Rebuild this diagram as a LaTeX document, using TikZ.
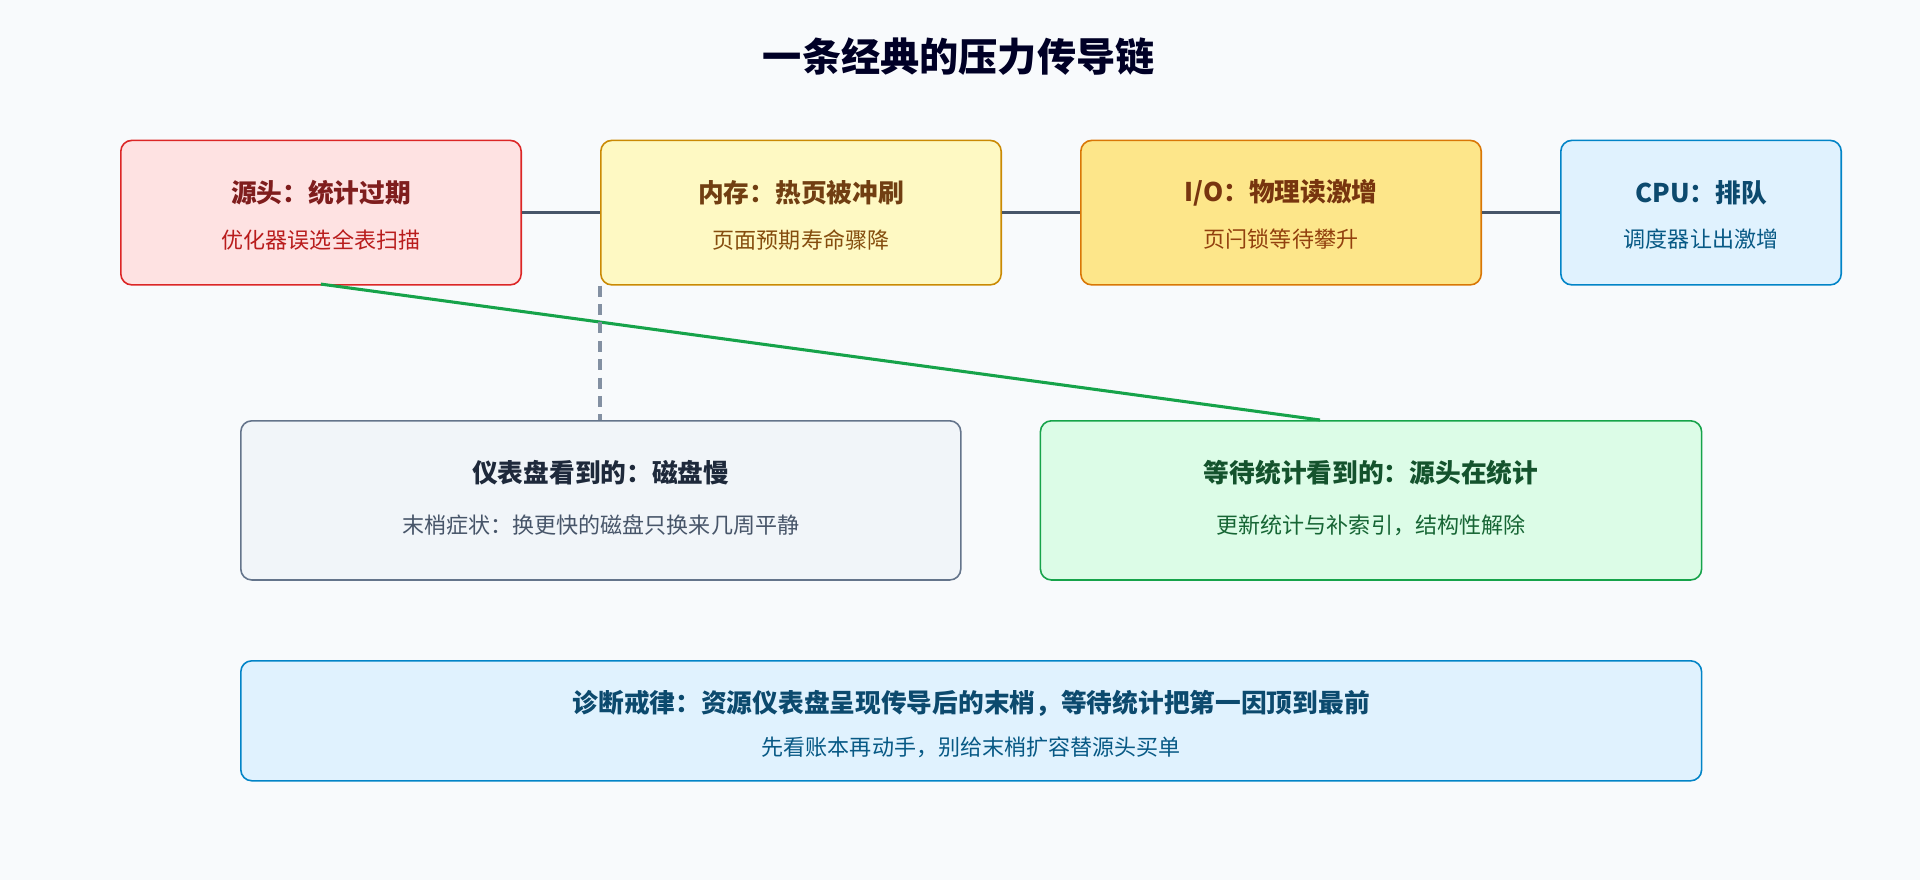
\documentclass[tikz,border=0pt]{standalone}
\usepackage{fontspec}
\setmainfont{Noto Sans CJK SC}
\begin{document}
\begin{tikzpicture}[x=1pt,y=-1pt,
  box/.style={draw,rounded corners=9pt,line width=1.3pt,anchor=north west,inner sep=0pt},
  ttl/.style={font=\fontsize{21}{25}\selectfont\bfseries},
  sub/.style={font=\fontsize{18}{21}\selectfont}]
\definecolor{bg}{HTML}{F8FAFC}
\fill[bg] (0,0) rectangle (1568,719);
\useasboundingbox (0,0) rectangle (1568,719);
\node[font=\fontsize{32}{36}\selectfont\bfseries,text=black!85!blue] (title) at (783,46) {一条经典的压力传导链};
\definecolor{r1}{HTML}{FEE2E2}\definecolor{r2}{HTML}{DC2626}\definecolor{r3}{HTML}{7F1D1D}\definecolor{r4}{HTML}{B91C1C}
\definecolor{y1}{HTML}{FEF9C3}\definecolor{y2}{HTML}{CA8A04}\definecolor{y3}{HTML}{713F12}\definecolor{y4}{HTML}{854D0E}
\definecolor{o1}{HTML}{FDE68A}\definecolor{o2}{HTML}{D97706}\definecolor{o3}{HTML}{78350F}\definecolor{o4}{HTML}{92400E}
\definecolor{b1}{HTML}{E0F2FE}\definecolor{b2}{HTML}{0284C7}\definecolor{b3}{HTML}{0C4A6E}\definecolor{b4}{HTML}{075985}
\definecolor{s1}{HTML}{F1F5F9}\definecolor{s2}{HTML}{64748B}\definecolor{s3}{HTML}{1E293B}\definecolor{s4}{HTML}{475569}
\definecolor{g1}{HTML}{DCFCE7}\definecolor{g2}{HTML}{16A34A}\definecolor{g3}{HTML}{14532D}\definecolor{g4}{HTML}{166534}
\node[box,draw=r2,fill=r1,minimum width=327pt,minimum height=118pt] (a) at (98,114) {};
\node[box,draw=y2,fill=y1,minimum width=327pt,minimum height=118pt] (b) at (490,114) {};
\node[box,draw=o2,fill=o1,minimum width=327pt,minimum height=118pt] (c) at (882,114) {};
\node[box,draw=b2,fill=b1,minimum width=229pt,minimum height=118pt] (d) at (1274,114) {};
\draw[s4,line width=2.5pt] (a.east) -- (b.west) (b.east) -- (c.west) (c.east) -- (d.west);
\node[ttl,text=r3] (at) at ([yshift=16pt]a.center) {源头：统计过期};
\node[sub,text=r4] (as) at ([yshift=-22pt]a.center) {优化器误选全表扫描};
\node[ttl,text=y3] (bt) at ([yshift=16pt]b.center) {内存：热页被冲刷};
\node[sub,text=y4] (bs) at ([yshift=-22pt]b.center) {页面预期寿命骤降};
\node[ttl,text=o3] (ct) at ([yshift=16pt]c.center) {I/O：物理读激增};
\node[sub,text=o4] (cs) at ([yshift=-22pt]c.center) {页闩锁等待攀升};
\node[ttl,text=b3] (dt) at ([yshift=16pt]d.center) {CPU：排队};
\node[sub,text=b4] (ds) at ([yshift=-22pt]d.center) {调度器让出激增};
\node[box,draw=s2,fill=s1,minimum width=588pt,minimum height=130pt] (e) at (196,343) {};
\node[box,draw=g2,fill=g1,minimum width=540pt,minimum height=130pt] (f) at (849,343) {};
\node[ttl,text=s3] (et) at ([yshift=23pt]e.center) {仪表盘看到的：磁盘慢};
\node[sub,text=s4] (es) at ([yshift=-20pt]e.center) {末梢症状：换更快的磁盘只换来几周平静};
\node[ttl,text=g3] (ft) at ([yshift=23pt]f.center) {等待统计看到的：源头在统计};
\node[sub,text=g4] (fs) at ([yshift=-20pt]f.center) {更新统计与补索引，结构性解除};
\coordinate (aS) at (262,232);
\coordinate (fN) at (1078,343);
\draw[g2,line width=2.5pt] (aS) -- (fN);
\draw[s2!80,line width=2.5pt,dash pattern=on 9pt off 6pt] (b.south west) -- (b.south west |- e.north);
\node[box,draw=b2,fill=b1,minimum width=1193pt,minimum height=98pt] (g) at (196,539) {};
\node[ttl,text=b3] (gt) at ([yshift=14pt]g.center) {诊断戒律：资源仪表盘呈现传导后的末梢，等待统计把第一因顶到最前};
\node[sub,text=b4] (gs) at ([yshift=-22pt]g.center) {先看账本再动手，别给末梢扩容替源头买单};
\end{tikzpicture}
\end{document}
